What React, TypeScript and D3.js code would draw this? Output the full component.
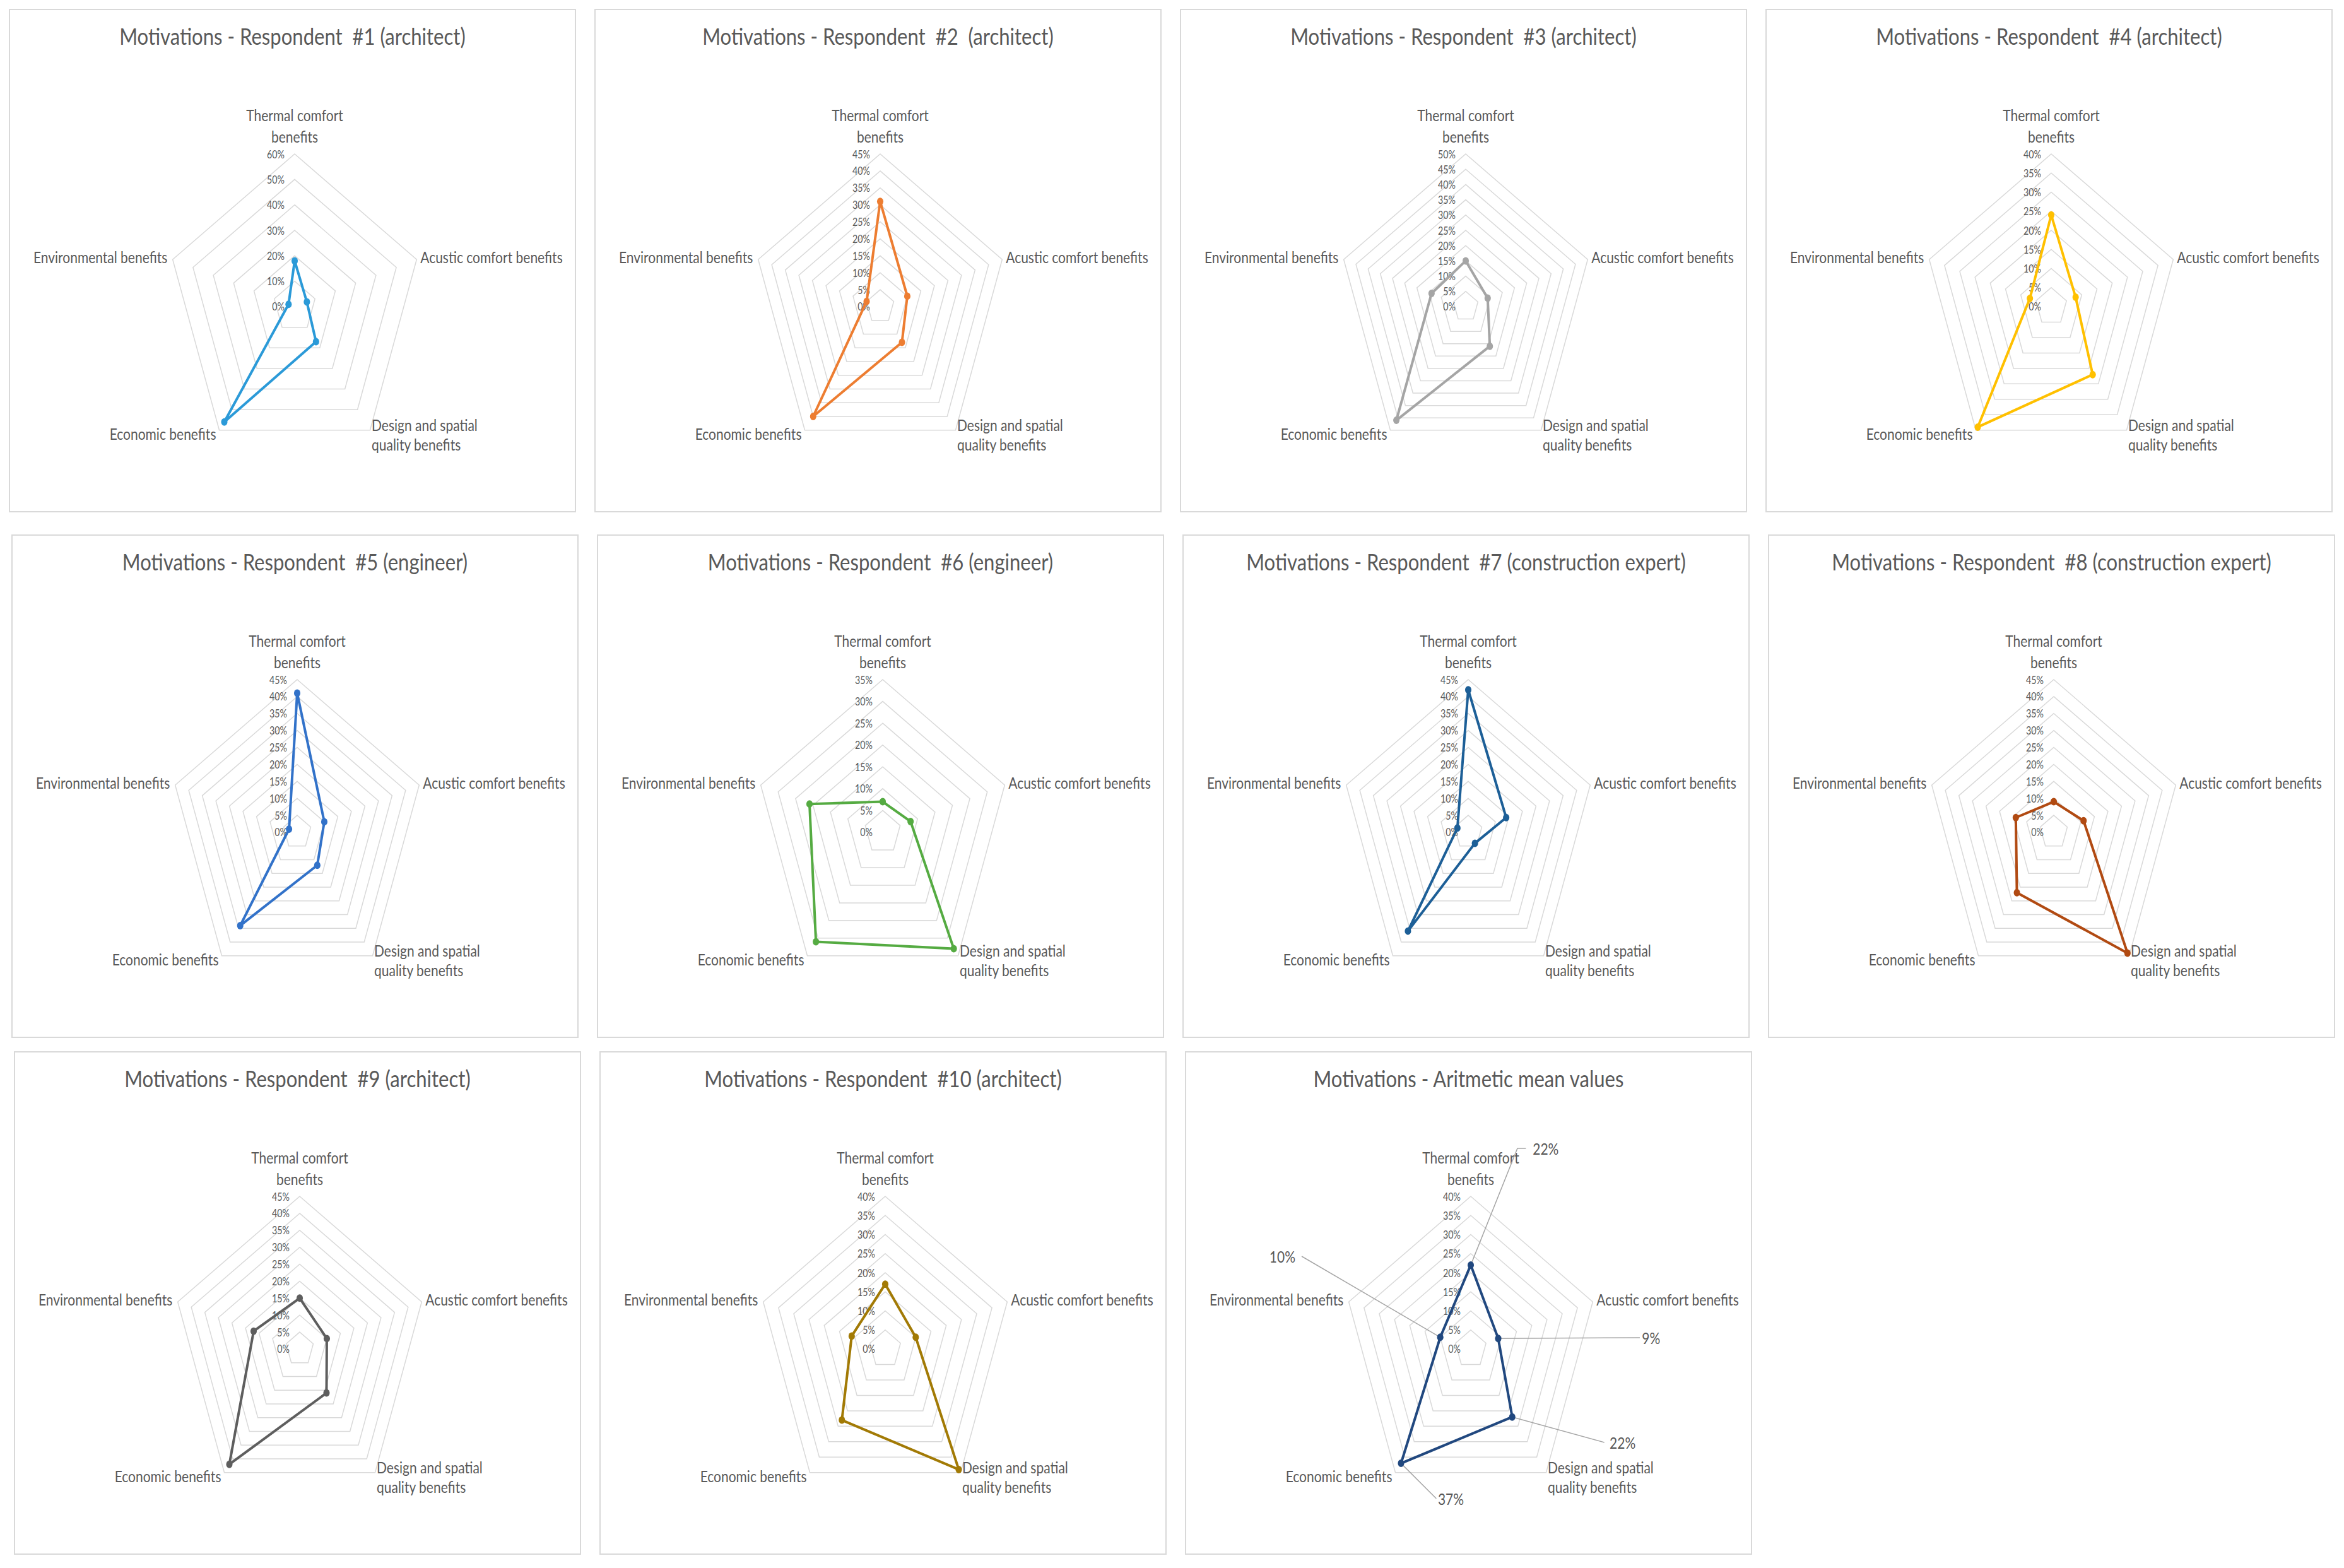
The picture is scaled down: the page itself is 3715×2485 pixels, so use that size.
import * as d3 from 'd3';

// the source figure was squeezed horizontally, so everything is drawn in
// unsqueezed units and the viewBox does the squeezing
const SX = 0.84;
const PAGE_W = 3715;
const PAGE_H = 2485;

const axisLabels = [
  ['Thermal comfort', 'benefits'],
  ['Acustic comfort benefits'],
  ['Design and spatial', 'quality benefits'],
  ['Economic benefits'],
  ['Environmental benefits'],
];

const titles = [
  'Motivations - Respondent  #1 (architect)',
  'Motivations - Respondent  #2  (architect)',
  'Motivations - Respondent  #3 (architect)',
  'Motivations - Respondent  #4 (architect)',
  'Motivations - Respondent  #5 (engineer)',
  'Motivations - Respondent  #6 (engineer)',
  'Motivations - Respondent  #7 (construction expert)',
  'Motivations - Respondent  #8 (construction expert)',
  'Motivations - Respondent  #9 (architect)',
  'Motivations - Respondent  #10 (architect)',
  'Motivations - Aritmetic mean values',
];

// thermal, acustic, design, economic, environmental (%)
const respondent1 = [18, 6, 17, 56, 3];
const respondent2 = [31, 10, 13, 40, 5];
const respondent3 = [15, 9, 16, 46, 14];
const respondent4 = [24, 8, 22, 39, 7];
const respondent5 = [41, 10, 12, 34, 3];
const respondent6 = [7, 8, 33, 31, 21];
const respondent7 = [42, 14, 4, 36, 4];
const respondent8 = [9, 11, 44, 22, 14];
const respondent9 = [15, 10, 16, 42, 17];
const respondent10 = [17, 10, 39, 23, 11];
const meanValues = [22, 9, 22, 37, 10];

const seriesValues = [
  respondent1, respondent2, respondent3, respondent4, respondent5,
  respondent6, respondent7, respondent8, respondent9, respondent10, meanValues,
];
const axisMax = [60, 45, 50, 40, 45, 35, 45, 45, 45, 40, 40];
const tickStep = [10, 5, 5, 5, 5, 5, 5, 5, 5, 5, 5];
const seriesColors = [
  '#2B9AD8', '#ED7D31', '#A5A5A5', '#FFC000', '#3272C9', '#55AB42',
  '#1D5F97', '#B14A12', '#5E5E5E', '#A27A05', '#21487F',
];

// layout, in page px (x values get divided by SX)
const COL_X = 15;
const COL_STEP = 928;
const ROW_Y = [15, 848, 1667];
const ROW_SHIFT = [0, 4, 8];
const PANEL_W = 897;
const PANEL_H = 796;
const CENTER_X = 452;
const CENTER_Y = 471;
const RADIUS = 242;
const TEXT = '#595959';
const FONT = 'Lato, "Open Sans", sans-serif';

const labelPlacement = [
  { anchor: 'middle', dx: 0, dy: [-62, -28] },
  { anchor: 'start', dx: 7, dy: [-4] },
  { anchor: 'start', dx: 3, dy: [-9, 22] },
  { anchor: 'end', dx: -6, dy: [5] },
  { anchor: 'end', dx: -10, dy: [-4] },
];

// leader lines of the mean chart, relative to the centre
const meanCallouts = [
  { path: [[88, -318], [104, -318]], label: [117, -318], anchor: 'start' },
  { path: [[319, -18]], label: [323, -18], anchor: 'start' },
  { path: [[252, 148]], label: [262, 148], anchor: 'start' },
  { path: [[-65, 237]], label: [-62, 237], anchor: 'start' },
  { path: [[-319, -147]], label: [-331, -147], anchor: 'end' },
];

const angle = (i: number) => (i * 2 * Math.PI) / axisLabels.length;

function RadarPanel({ index }: { index: number }) {
  const col = index % 4;
  const row = Math.floor(index / 4);
  const px = (COL_X + ROW_SHIFT[row] + col * COL_STEP) / SX;
  const py = ROW_Y[row];
  const values = seriesValues[index];
  const max = axisMax[index];
  const step = tickStep[index];
  const color = seriesColors[index];

  const r = d3.scaleLinear().domain([0, max]).range([0, RADIUS]);
  const ticks = d3.range(0, max + step / 2, step);

  const ring = d3
    .lineRadial<number>()
    .angle((_, i) => angle(i))
    .radius(d => r(d))
    .curve(d3.curveLinearClosed);

  const pt = (v: number, i: number): [number, number] => [
    r(v) * Math.sin(angle(i)),
    -r(v) * Math.cos(angle(i)),
  ];

  const cx = CENTER_X / SX;
  const cy = CENTER_Y;

  return (
    <g transform={`translate(${px},${py})`}>
      <rect
        width={PANEL_W / SX}
        height={PANEL_H}
        fill="#fff"
        stroke="#D9D9D9"
        strokeWidth={2}
        vectorEffect="non-scaling-stroke"
      />
      <text
        x={PANEL_W / SX / 2}
        y={41}
        textAnchor="middle"
        dominantBaseline="central"
        fontSize={37}
        fill={TEXT}
        style={{ whiteSpace: 'pre' }}
      >
        {titles[index]}
      </text>
      <g transform={`translate(${cx},${cy})`}>
        {ticks.slice(1).map(t => (
          <path
            key={t}
            d={ring(axisLabels.map(() => t)) || ''}
            fill="none"
            stroke="#D9D9D9"
            strokeWidth={1.5}
            vectorEffect="non-scaling-stroke"
          />
        ))}
        {ticks.map(t => (
          <text
            key={t}
            x={-19}
            y={-r(t)}
            textAnchor="end"
            dominantBaseline="central"
            fontSize={17}
            fill={TEXT}
          >
            {`${t}%`}
          </text>
        ))}
        {axisLabels.map((lines, i) => {
          const [vx, vy] = pt(max, i);
          const pl = labelPlacement[i];
          return (
            <text
              key={i}
              textAnchor={pl.anchor}
              dominantBaseline="central"
              fontSize={25}
              fill={TEXT}
            >
              {lines.map((line, j) => (
                <tspan key={j} x={vx + pl.dx} y={vy + pl.dy[j]}>
                  {line}
                </tspan>
              ))}
            </text>
          );
        })}
        {index === 10 &&
          meanCallouts.map((c, i) => {
            const start = pt(values[i], i);
            const line = d3.line()([start, ...(c.path as [number, number][])]);
            return (
              <g key={i}>
                <path
                  d={line || ''}
                  fill="none"
                  stroke="#A6A6A6"
                  strokeWidth={1.5}
                  vectorEffect="non-scaling-stroke"
                />
                <text
                  x={c.label[0]}
                  y={c.label[1]}
                  textAnchor={c.anchor}
                  dominantBaseline="central"
                  fontSize={25}
                  fill={TEXT}
                >
                  {`${values[i]}%`}
                </text>
              </g>
            );
          })}
        <path
          d={ring(values) || ''}
          fill="none"
          stroke={color}
          strokeWidth={4}
          strokeLinejoin="round"
          vectorEffect="non-scaling-stroke"
        />
        {values.map((v, i) => {
          const [x, y] = pt(v, i);
          return <circle key={i} cx={x} cy={y} r={6} fill={color} />;
        })}
      </g>
    </g>
  );
}

export default function App() {
  return (
    <svg
      width={PAGE_W}
      height={PAGE_H}
      viewBox={`0 0 ${PAGE_W / SX} ${PAGE_H}`}
      preserveAspectRatio="none"
      style={{ position: 'absolute', left: 0, top: 0, display: 'block', background: '#fff' }}
      fontFamily={FONT}
    >
      {titles.map((_, i) => (
        <RadarPanel key={i} index={i} />
      ))}
    </svg>
  );
}
